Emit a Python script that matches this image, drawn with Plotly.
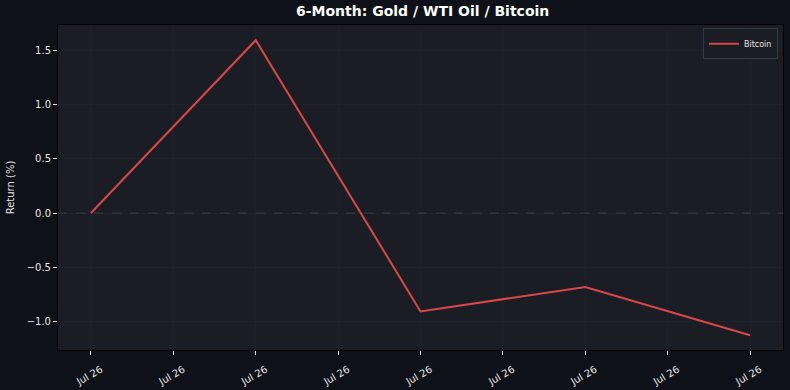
import plotly.graph_objects as go

x_idx = [0, 2, 4, 6, 8]
bitcoin = [0.0, 1.59, -0.905, -0.68, -1.125]
tick_pos = [0, 1, 2, 3, 4, 5, 6, 7, 8]
tick_labels = ["Jul 26"] * 9

fig = go.Figure()
fig.add_hline(y=0, line=dict(color="#3a3e45", width=1, dash="dash"))
fig.add_trace(go.Scatter(x=x_idx, y=bitcoin, mode="lines", name="Bitcoin",
                         line=dict(color="#d9474a", width=2)))

fig.update_layout(
    width=790, height=390,
    paper_bgcolor="#0e1117", plot_bgcolor="#1a1d23",
    margin=dict(l=58, r=7, t=25, b=40, autoexpand=False),
    title=dict(text="<b>6-Month: Gold / WTI Oil / Bitcoin</b>", x=0.535, xanchor="center",
               y=0.985, yanchor="top", font=dict(family="DejaVu Sans", size=14, color="#ffffff")),
    font=dict(family="DejaVu Sans", size=10, color="#e6e6e6"),
    showlegend=True,
    legend=dict(x=0.993, y=0.99, xanchor="right", yanchor="top",
                bgcolor="#1a1d23", bordercolor="#353a42", borderwidth=1,
                font=dict(size=8, color="#e6e6e6"), itemwidth=30),
)
fig.update_xaxes(range=[-0.4, 8.4], tickmode="array", tickvals=tick_pos, ticktext=tick_labels,
                 tickangle=-30, ticks="outside", ticklen=4, tickcolor="#e6e6e6",
                 ticklabelshift=10, ticklabelstandoff=5, automargin=False,
                 showgrid=True, gridcolor="#1e2228", zeroline=False,
                 showline=True, linecolor="#000000", linewidth=1, mirror=True)
fig.update_yaxes(range=[-1.26, 1.73], tickmode="array",
                 tickvals=[-1.0, -0.5, 0.0, 0.5, 1.0, 1.5],
                 ticktext=["\u22121.0", "\u22120.5", "0.0", "0.5", "1.0", "1.5"],
                 ticks="outside", ticklen=4, tickcolor="#e6e6e6", automargin=False,
                 showgrid=True, gridcolor="#1e2228", zeroline=False,
                 showline=True, linecolor="#000000", linewidth=1, mirror=True,
                 title=dict(text="Return (%)", font=dict(size=10), standoff=10))

fig.write_html("out.html")
